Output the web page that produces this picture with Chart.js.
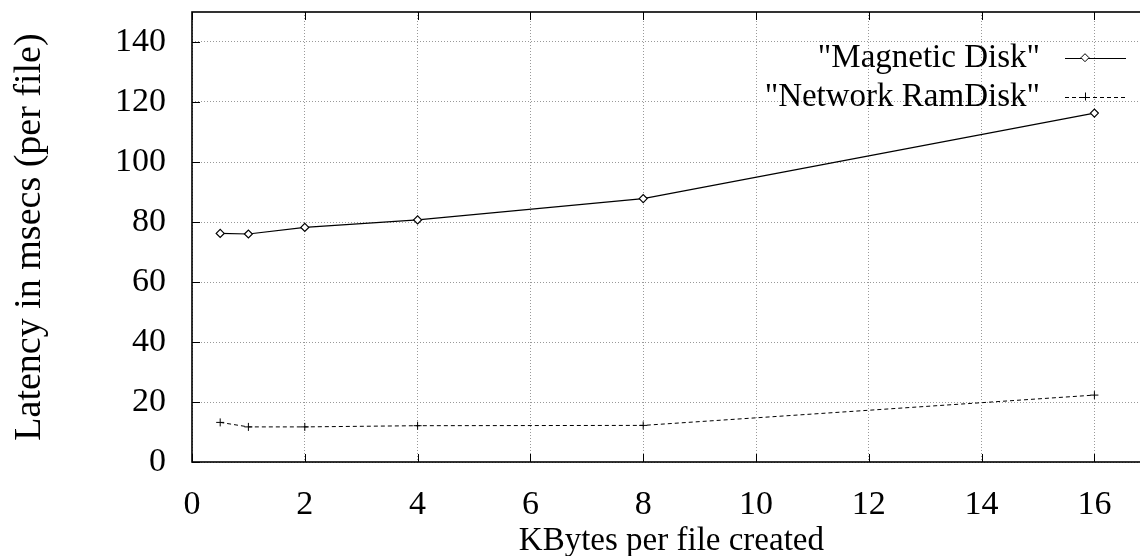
<!DOCTYPE html>
<html>
<head>
<meta charset="utf-8">
<script src="https://cdn.jsdelivr.net/npm/chart.js@4"></script>
<style>
  html, body { margin: 0; padding: 0; background: #fff; overflow: hidden; }
  #box { width: 1156px; height: 556px; }
</style>
</head>
<body>
<div id="box"><canvas id="grafico" width="1156" height="556"></canvas></div>
<script>
// ************************* DATOS *************************
const kbytes = [0.5, 1, 2, 4, 8, 16];
const magneticDisk = [76.2, 76.0, 78.2, 80.7, 87.8, 116.3];
const networkRamDisk = [13.2, 11.7, 11.7, 12.1, 12.2, 22.3];
const seriesLabels = ['"Magnetic Disk"', '"Network RamDisk"'];
const xTitle = "KBytes per file created";
const yTitle = "Latency in msecs (per file)";

const FUENTE = "'Liberation Serif', 'DejaVu Serif', serif";

function puntos(ys) {
  return kbytes.map((x, i) => ({ x: x, y: ys[i] }));
}

// Quita los márgenes que Chart.js reserva para las etiquetas extremas
function sinMargenes(s) {
  s.paddingTop = 0;
  s.paddingBottom = 0;
  s.paddingLeft = 0;
  s.paddingRight = 0;
}

// ************************* MARCO, TICKS Y LEYENDA (estilo gnuplot) *************************
const marcoGnuplot = {
  id: "marcoGnuplot",
  afterDraw(chart) {
    const ctx = chart.ctx;
    const a = chart.chartArea;
    const sx = chart.scales.x;
    const sy = chart.scales.y;
    ctx.save();
    ctx.strokeStyle = "#000";
    ctx.lineWidth = 1;
    ctx.setLineDash([]);
    // ticks hacia dentro
    ctx.beginPath();
    sx.ticks.forEach((t) => {
      const px = Math.round(sx.getPixelForValue(t.value)) + 0.5;
      ctx.moveTo(px, a.bottom);
      ctx.lineTo(px, a.bottom - 8);
      ctx.moveTo(px, a.top);
      ctx.lineTo(px, a.top + 8);
    });
    sy.ticks.forEach((t) => {
      const py = Math.round(sy.getPixelForValue(t.value)) + 0.5;
      ctx.moveTo(a.left, py);
      ctx.lineTo(a.left + 8, py);
    });
    ctx.stroke();
    // marco
    ctx.lineWidth = 1.6;
    ctx.strokeRect(a.left, a.top, a.right - a.left, a.bottom - a.top);

    // leyenda
    const filas = [57.7, 96.5];
    ctx.font = "33px " + FUENTE;
    ctx.fillStyle = "#000";
    ctx.textAlign = "right";
    ctx.textBaseline = "middle";
    chart.data.datasets.forEach((ds, i) => {
      const y = filas[i];
      ctx.fillText(ds.label, 1040, y + 1);
      ctx.strokeStyle = "#000";
      ctx.lineWidth = 1;
      ctx.setLineDash(ds.borderDash || []);
      ctx.beginPath();
      ctx.moveTo(1065, Math.round(y) + 0.5);
      ctx.lineTo(1126, Math.round(y) + 0.5);
      ctx.stroke();
      ctx.setLineDash([]);
      const mx = 1085;
      ctx.beginPath();
      if (ds.pointStyle === "rectRot") {
        ctx.fillStyle = "#fff";
        ctx.moveTo(mx, y - 4);
        ctx.lineTo(mx + 4, y);
        ctx.lineTo(mx, y + 4);
        ctx.lineTo(mx - 4, y);
        ctx.closePath();
        ctx.fill();
        ctx.stroke();
        ctx.fillStyle = "#000";
      } else {
        ctx.moveTo(mx - 4, Math.round(y) + 0.5);
        ctx.lineTo(mx + 4, Math.round(y) + 0.5);
        ctx.moveTo(mx + 0.5, y - 4);
        ctx.lineTo(mx + 0.5, y + 4);
        ctx.stroke();
      }
    });
    ctx.restore();
  },
};

// ************************* GRÁFICO *************************
new Chart(document.getElementById("grafico"), {
  type: "line",
  data: {
    datasets: [
      {
        label: seriesLabels[0],
        data: puntos(magneticDisk),
        borderColor: "#000",
        borderWidth: 1.2,
        pointStyle: "rectRot",
        pointRadius: 4,
        pointBorderWidth: 1.2,
        pointBackgroundColor: "#fff",
        pointBorderColor: "#000",
        tension: 0,
      },
      {
        label: seriesLabels[1],
        data: puntos(networkRamDisk),
        borderColor: "#000",
        borderWidth: 1,
        borderDash: [4, 3],
        pointStyle: "cross",
        pointRadius: 4,
        pointBorderWidth: 1,
        pointBorderColor: "#000",
        tension: 0,
      },
    ],
  },
  options: {
    responsive: false,
    animation: false,
    devicePixelRatio: 1,
    layout: { padding: { top: 12, right: 3, left: 0, bottom: 0 } },
    plugins: { legend: { display: false }, tooltip: { enabled: false } },
    scales: {
      x: {
        type: "linear",
        min: 0,
        max: 17,
        afterFit: (s) => { s.height = 94; sinMargenes(s); },
        ticks: {
          stepSize: 2,
          includeBounds: false,
          color: "#000",
          padding: 23,
          maxRotation: 0,
          font: { family: FUENTE, size: 34 },
        },
        grid: { color: "#999", lineWidth: 1, drawTicks: false },
        border: { display: false, dash: [1, 2] },
        title: {
          display: true,
          text: xTitle,
          color: "#000",
          padding: 0,
          font: { family: FUENTE, size: 33, lineHeight: 0.9 },
        },
      },
      y: {
        min: 0,
        max: 150,
        afterFit: (s) => { s.width = 192; sinMargenes(s); },
        ticks: {
          stepSize: 20,
          includeBounds: false,
          color: "#000",
          padding: 26,
          font: { family: FUENTE, size: 34 },
        },
        grid: { color: "#999", lineWidth: 1, drawTicks: false },
        border: { display: false, dash: [1, 2] },
        title: {
          display: true,
          text: yTitle,
          color: "#000",
          padding: 11,
          font: { family: FUENTE, size: 38, lineHeight: 1 },
        },
      },
    },
  },
  plugins: [marcoGnuplot],
});
</script>
</body>
</html>
